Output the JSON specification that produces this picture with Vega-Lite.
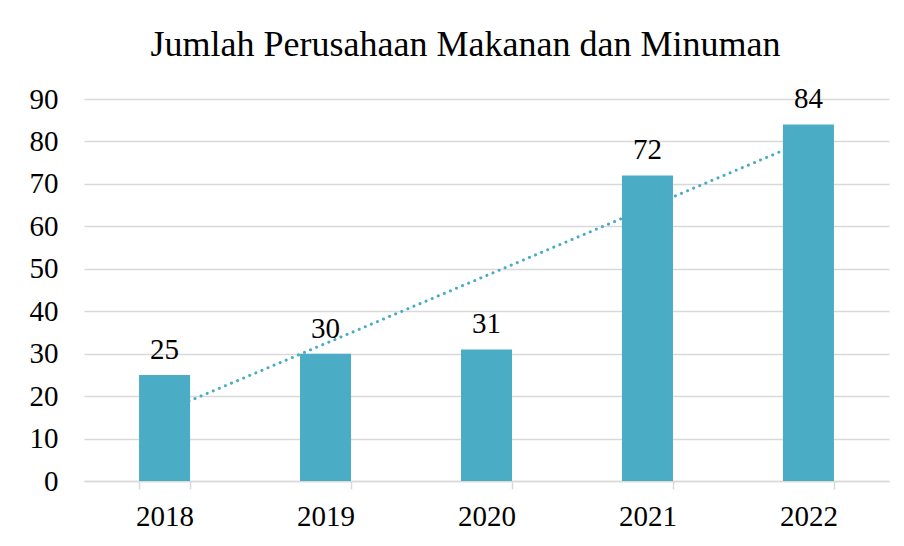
{
  "$schema": "https://vega.github.io/schema/vega-lite/v6.json",
  "autosize": "none",
  "width": 805,
  "height": 382,
  "padding": {"left": 84, "top": 99, "right": 15, "bottom": 65},
  "background": "white",
  "title": {
    "text": "Jumlah Perusahaan Makanan dan Minuman",
    "font": "Liberation Serif",
    "fontSize": 36,
    "fontWeight": "normal",
    "color": "black",
    "anchor": "middle",
    "frame": "group",
    "dx": -21,
    "offset": 21
  },
  "datasets": {
    "bars": [
      {"year": "2018", "count": 25},
      {"year": "2019", "count": 30},
      {"year": "2020", "count": 31},
      {"year": "2021", "count": 72},
      {"year": "2022", "count": 84}
    ],
    "trend": [
      {"year": "2018", "trend": 16.4},
      {"year": "2022", "trend": 80.4}
    ]
  },
  "encoding": {
    "x": {
      "field": "year",
      "type": "ordinal",
      "sort": ["2018", "2019", "2020", "2021", "2022"],
      "scale": {"paddingInner": 0.683, "paddingOuter": 0.342},
      "axis": {
        "title": null,
        "labelAngle": 0,
        "labelFont": "Liberation Serif",
        "labelFontSize": 29,
        "labelColor": "black",
        "labelPadding": 13,
        "domainColor": "#d9d9d9",
        "domainWidth": 1.5,
        "tickColor": "#d9d9d9",
        "tickWidth": 1.5,
        "tickSize": 8,
        "tickBand": "extent",
        "grid": false
      }
    }
  },
  "layer": [
    {
      "data": {"name": "trend"},
      "mark": {"type": "line", "color": "#4BACC6", "strokeWidth": 3, "strokeDash": [0.1, 6.5], "strokeCap": "round"},
      "encoding": {
        "y": {"field": "trend", "type": "quantitative"}
      }
    },
    {
      "data": {"name": "bars"},
      "mark": {"type": "bar", "color": "#4BACC6"},
      "encoding": {
        "y": {
          "field": "count",
          "type": "quantitative",
          "scale": {"domain": [0, 90]},
          "axis": {
            "title": null,
            "values": [0, 10, 20, 30, 40, 50, 60, 70, 80, 90],
            "labelFont": "Liberation Serif",
            "labelFontSize": 29,
            "labelColor": "black",
            "labelPadding": 26,
            "domain": false,
            "ticks": false,
            "gridColor": "#d9d9d9",
            "gridWidth": 1.5
          }
        }
      }
    },
    {
      "data": {"name": "bars"},
      "mark": {"type": "text", "font": "Liberation Serif", "fontSize": 29, "color": "black", "baseline": "alphabetic", "dy": -16},
      "encoding": {
        "y": {"field": "count", "type": "quantitative"},
        "text": {"field": "count", "type": "quantitative"}
      }
    }
  ],
  "config": {"view": {"stroke": null}}
}
